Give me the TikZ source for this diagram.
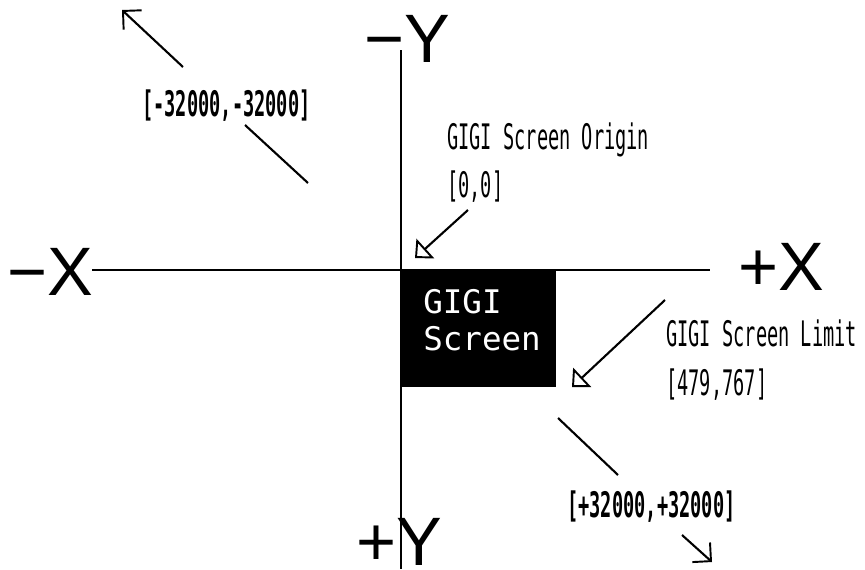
\documentclass[tikz,border=0pt]{standalone}
\usepackage{fontspec}
\usetikzlibrary{arrows.meta}
\newfontfamily\gigifont[FakeStretch=0.53]{DejaVu Sans Mono}
\newfontfamily\axisfont{Liberation Sans}
\newfontfamily\scrfont{DejaVu Sans Mono}
\tikzset{
  axislbl/.style={anchor=base west,inner sep=0pt,font=\axisfont\fontsize{39}{44}\selectfont},
  gigilbl/.style={anchor=base west,inner sep=0pt,font=\gigifont\fontsize{20}{24}\selectfont},
  numlbl/.style={gigilbl,font=\gigifont\bfseries\fontsize{20}{24}\selectfont},
  scrlbl/.style={anchor=base west,inner sep=0pt,text=white,font=\scrfont\fontsize{18.5}{22}\selectfont},
  ptr/.style={line width=1.2pt,-{Triangle[open,length=8pt,width=15pt,line width=1.1pt]}},
  far/.style={line width=1.2pt,-{Straight Barb[length=7.5pt,width=15pt,line width=1.1pt]}}
}
\begin{document}
\begin{tikzpicture}[x=0.02cm,y=-0.02cm]
	  \useasboundingbox (0,0) rectangle (865,569);
	  % axes
	  \coordinate (xl) at (92,270);
	  \coordinate (xr) at (710,270);
	  \coordinate (yt) at (401,50);
	  \coordinate (yb) at (401,569);
	  \draw[line width=1.1pt] (xl) -- (xr);
	  \draw[line width=1.1pt] (yt) -- (yb);
	  \node[axislbl] (mx) at (7,295) {−X};
	  \node[axislbl] (px) at (738,290) {+X};
	  \node[axislbl] (my) at (364,62) {−Y};
	  \node[axislbl,text depth=0pt] (py) at (356,565) {+Y};
	  % the screen
	  \fill[black] (401,270) rectangle (556,387);
	  \node[scrlbl] (scra) at (423,313) {GIGI};
	  \node[scrlbl] (scrb) at (423,350) {Screen};
	  % origin
	  \node[gigilbl] (orig) at (447,149) {GIGI Screen Origin};
	  \node[gigilbl] (origc) at (447,197) {[0,0]};
	  \coordinate (o1) at (468,210);
	  \coordinate (o2) at (415,258);
	  \draw[ptr] (o1) -- (o2);
	  % limit
	  \node[gigilbl] (lim) at (666,346) {GIGI Screen Limit};
	  \node[gigilbl] (limc) at (666,395) {[479,767]};
	  \coordinate (l1) at (665,300);
	  \coordinate (l2) at (572,387);
	  \draw[ptr] (l1) -- (l2);
	  % far corners
	  \node[numlbl] (tl) at (142,116) {[-32000,-32000]};
	  \coordinate (t1) at (183,67);
	  \coordinate (t2) at (122,10);
	  \coordinate (t3) at (245,125);
	  \coordinate (t4) at (308,183);
	  \draw[far] (t1) -- (t2);
	  \draw[line width=1.2pt] (t3) -- (t4);
	  \node[numlbl] (br) at (567,517) {[+32000,+32000]};
	  \coordinate (b1) at (558,418);
	  \coordinate (b2) at (618,475);
	  \coordinate (b3) at (682,535);
	  \coordinate (b4) at (712,562);
	  \draw[line width=1.2pt] (b1) -- (b2);
	  \draw[far] (b3) -- (b4);
	\end{tikzpicture}
\end{document}
